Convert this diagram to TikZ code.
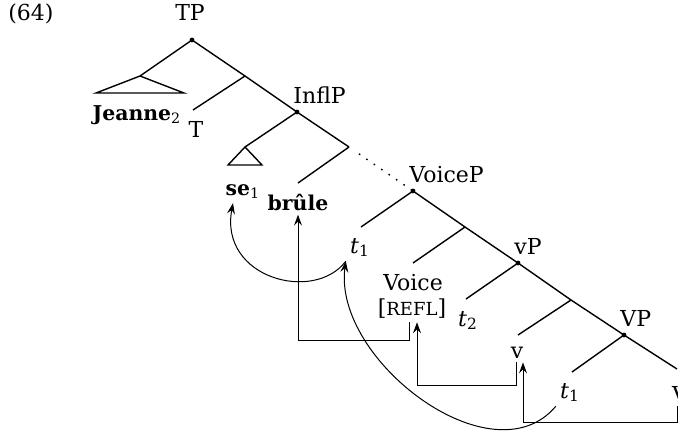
\documentclass[tikz,border=0pt]{standalone}
\usepackage{fontspec}
\setmainfont{DejaVu Serif}
\usetikzlibrary{
	positioning
	, arrows.meta
	, calc
}

\begin{document}
\begin{tikzpicture}[
		x=0.5pt, y=-0.5pt
		, font=\fontsize{11}{13}\selectfont
		, branch/.style={line width=0.7pt}
		, phrase/.style={anchor=base west, inner sep=0pt, xshift=-2pt, yshift=4.5pt}
		, leaf/.style={anchor=base, inner sep=2pt}
		, boldleaf/.style={leaf, font=\fontsize{10.2}{12}\selectfont}
		, movement/.style={-{Stealth[length=5.5pt, width=4pt, inset=2pt]}, line width=0.5pt}
	]
	\useasboundingbox (0,0) rectangle (678,434);

	% Example number
	\node (exno) at (31,14) {(64)};

	% Branching points along the spine
	\coordinate (tp) at (192,40);
	\coordinate (tbar) at (245,76);
	\coordinate (inflp) at (297,112);
	\coordinate (inflbar) at (349,147);
	\coordinate (voicep) at (413,191);
	\coordinate (voicebar) at (465,227);
	\coordinate (vp) at (518,263);
	\coordinate (vbar) at (571,300);
	\coordinate (bigvp) at (624,335);

	% Lower ends of the branches
	\coordinate (jtop) at (140,76);
	\coordinate (tend) at (193,110);
	\coordinate (setop) at (245,147);
	\coordinate (brend) at (298,183);
	\coordinate (t1end) at (361,227);
	\coordinate (voiceend) at (413,263);
	\coordinate (t2end) at (466,299);
	\coordinate (vend) at (518,335);
	\coordinate (t1lowend) at (572,372);
	\coordinate (bigvend) at (677,369);

	% Draw the spine, dotted between InflP and VoiceP
	\draw[branch] (tp) -- (tbar) -- (inflp) -- (inflbar);
	\draw[branch, dash pattern=on 0.8pt off 3.7pt, shorten <=6pt, shorten >=1pt] (inflbar) -- (voicep);
	\draw[branch] (voicep) -- (voicebar) -- (vp) -- (vbar) -- (bigvp) -- (bigvend);

	% Left branches
	\foreach \a/\b in {tp/jtop, tbar/tend, inflp/setop, inflbar/brend, voicep/t1end, voicebar/voiceend, vp/t2end, vbar/vend, bigvp/t1lowend} {
		\draw[branch] (\a) -- (\b);
	};

	% Triangles
	\draw[branch] (jtop) -- ++(-44,17) -- ++(88,0) -- cycle;
	\draw[branch] (setop) -- ++(-17,18) -- ++(34,0) -- cycle;

	% Dots on the phrases
	\foreach \n in {tp, inflp, voicep, vp, bigvp} {
		\fill (\n) circle (1.2pt);
	};

	% Phrase labels
	\node[anchor=base] (tplbl) at (190,20) {TP};
	\node[phrase] (infllbl) at (inflp) {InflP};
	\node[phrase] (voicelbl) at (voicep) {VoiceP};
	\node[phrase] (vplbl) at (vp) {vP};
	\node[phrase] (bigvplbl) at (bigvp) {VP};

	% Leaves
	\node[boldleaf] (jeanne) at (137,120) {\textbf{Jeanne}\textsubscript{2}};
	\node[leaf] (tlf) at (196,137) {T};
	\node[boldleaf] (se) at (243,195) {\textbf{se}\textsubscript{1}};
	\node[boldleaf] (brule) at (298,210) {\textbf{brûle}};
	\node[leaf] (t1up) at (360,253) {\textit{t}\textsubscript{1}};
	\node[leaf] (voice) at (413,290) {Voice};
	\node[leaf] (refl) at (412,315) {[{\fontsize{9}{10}\selectfont REFL}]};
	\node[leaf] (t2) at (468,326) {\textit{t}\textsubscript{2}};
	\node[leaf] (vlf) at (517,358) {v};
	\node[leaf] (t1low) at (570,398) {\textit{t}\textsubscript{1}};
	\node[leaf] (bigvlf) at (680,402) {V};

	% Movement arrows
	\draw[movement] (t1up.south west) .. controls +(-32,42) and +(-14,75) .. ([xshift=-5pt]se.south);
	\draw[movement] (t1low.south west) .. controls +(-63,75) and +(-13,99) .. (t1up.south west);
	\draw[movement] ([xshift=-1.5pt]refl.south) -- ++(0,18) -| (brule.south);
	\draw[movement] ([xshift=-0.5pt]vlf.south) -- ++(0,23) -| ([xshift=2.5pt]refl.south);
	\draw[movement] ([xshift=-1.5pt]bigvlf.south) -- ++(0,16) -| ([xshift=3pt]vlf.south);
\end{tikzpicture}
\end{document}
